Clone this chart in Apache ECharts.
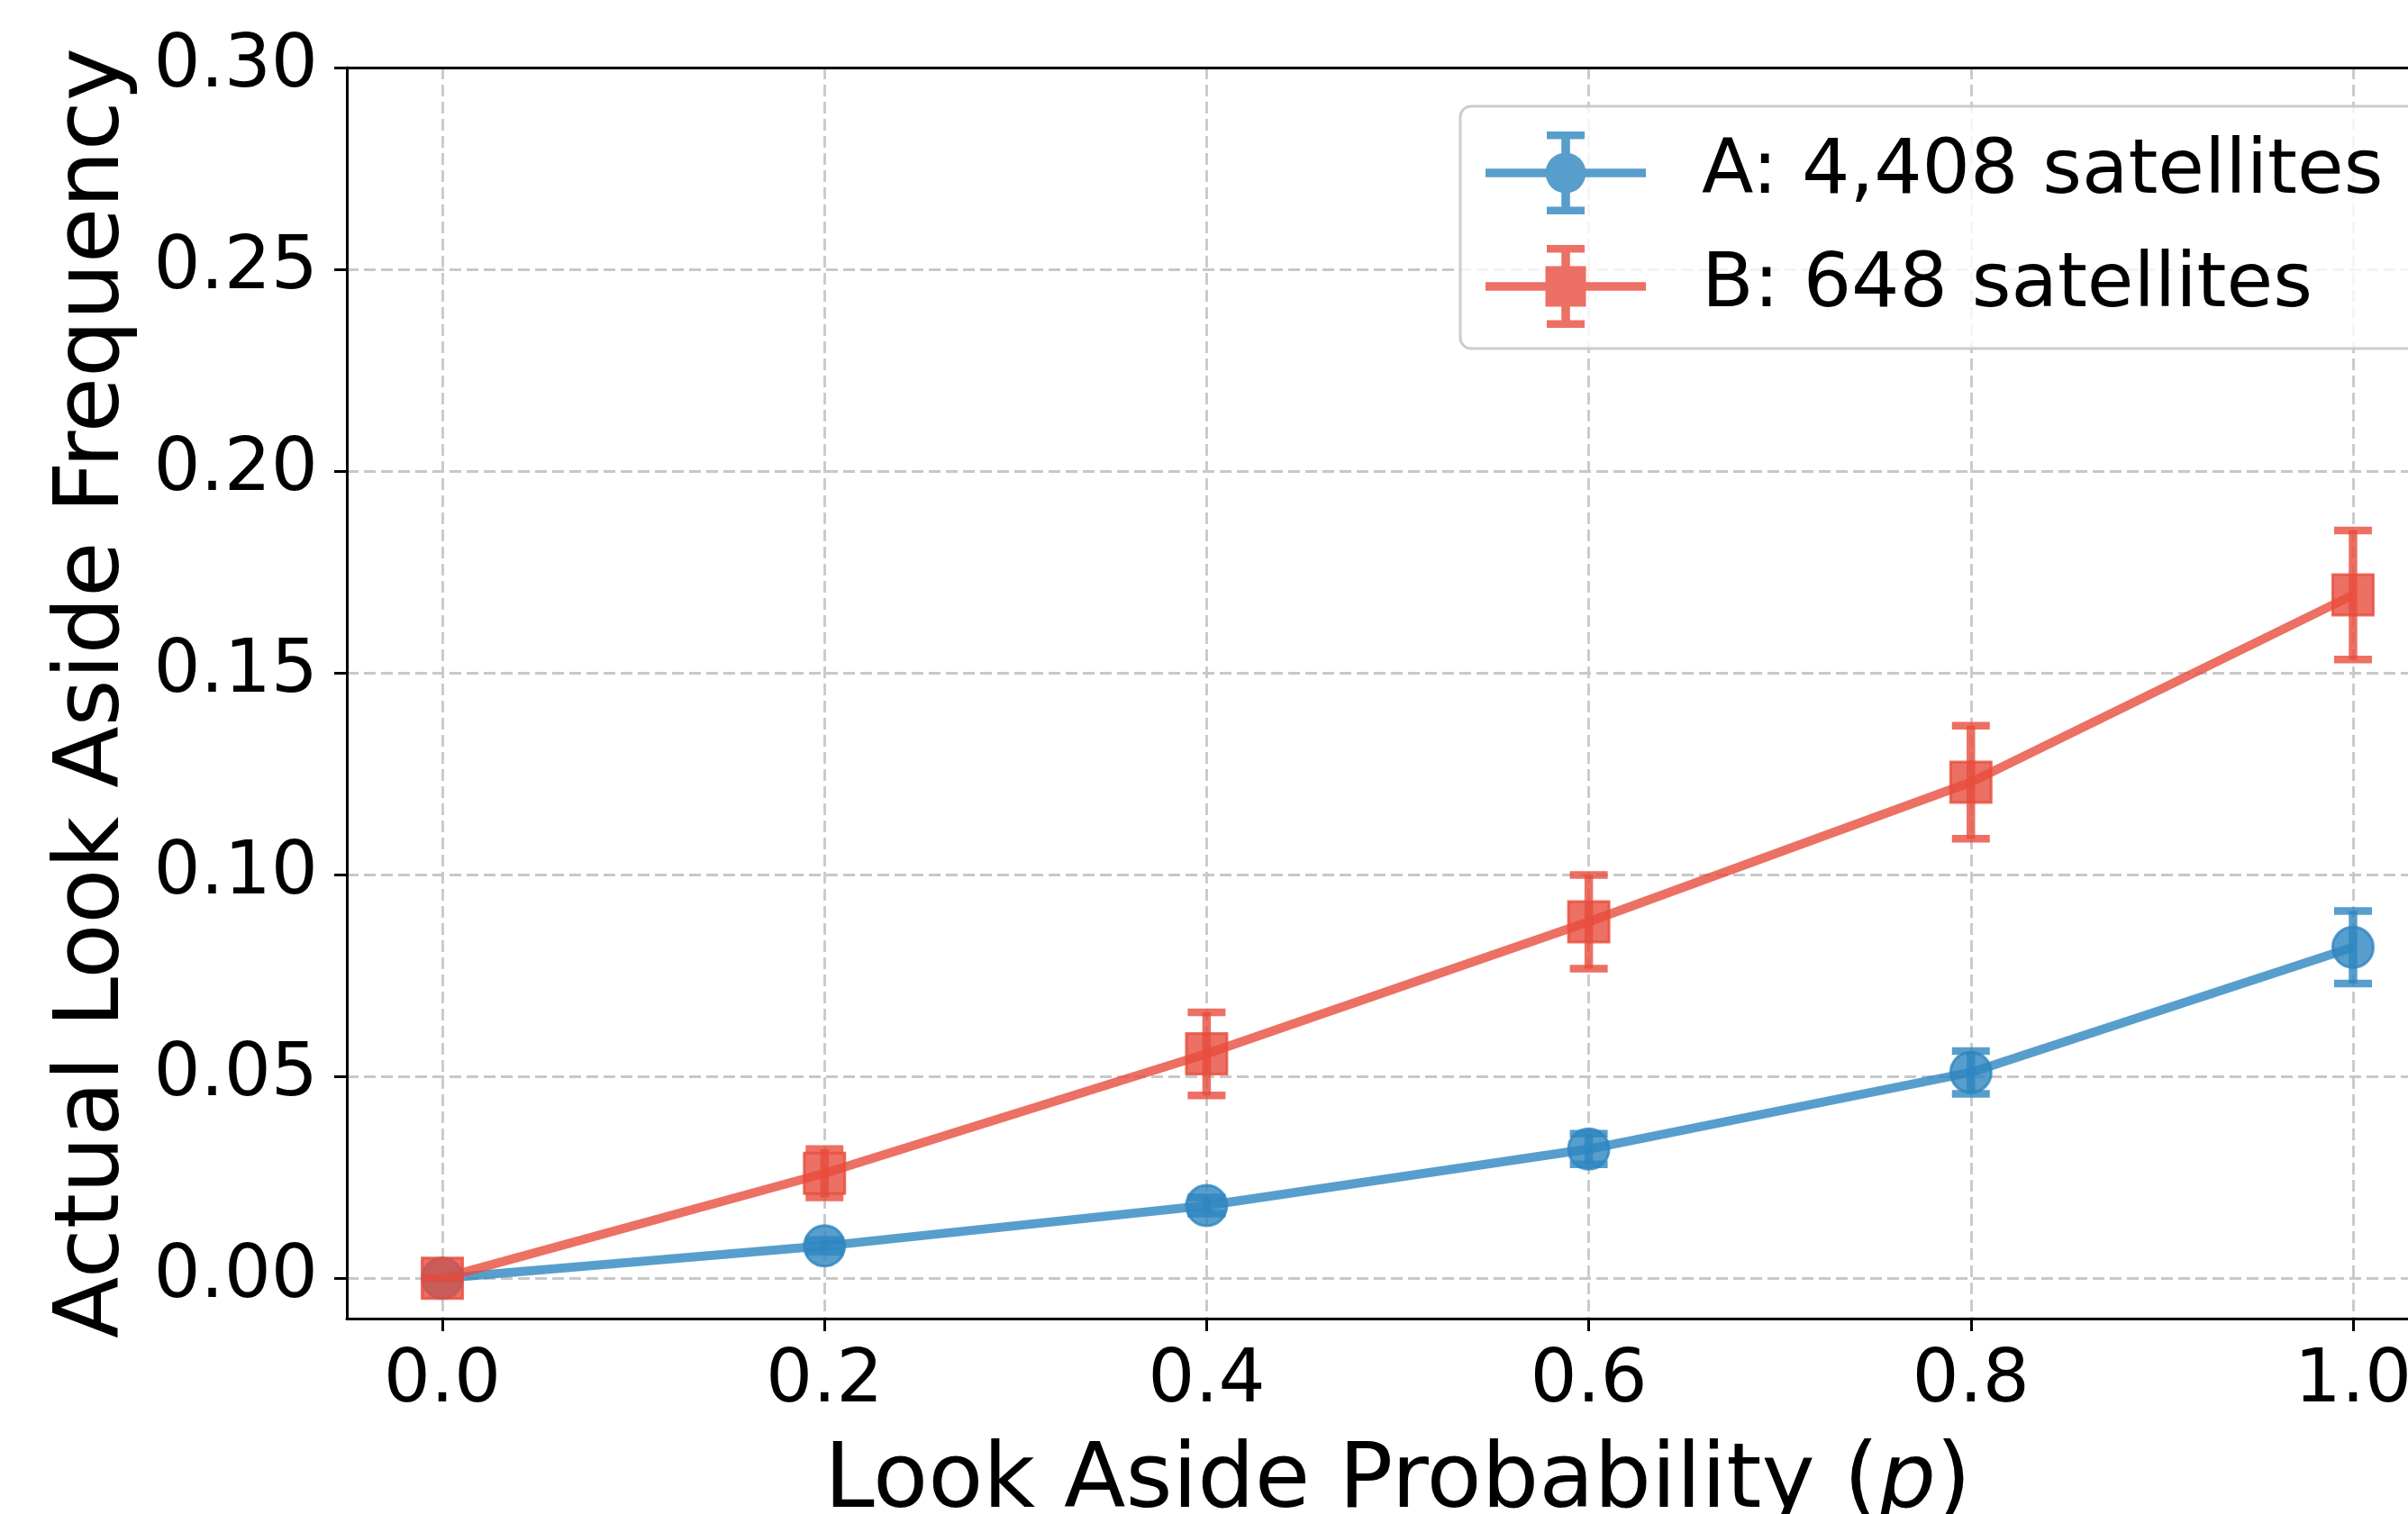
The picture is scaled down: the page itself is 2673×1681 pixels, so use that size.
<!DOCTYPE html>
<html>
<head>
<meta charset="utf-8">
<script src="https://cdn.jsdelivr.net/npm/echarts@6/dist/echarts.min.js"></script>
<style>
html,body{margin:0;padding:0;background:#ffffff;}
#chart{width:2673px;height:1681px;}
</style>
</head>
<body>
<div id="chart"></div>
<script>
// ---- data ----
const pValues = [0.0, 0.2, 0.4, 0.6, 0.8, 1.0];
const seriesAName = 'A: 4,408 satellites';
const seriesBName = 'B: 648 satellites';
const seriesAMean = [0.0, 0.008, 0.018, 0.032, 0.051, 0.082];
const seriesAErr  = [0.0, 0.0015, 0.002, 0.0038, 0.0053, 0.009];
const seriesBMean = [0.0, 0.026, 0.0556, 0.0883, 0.1229, 0.1693];
const seriesBErr  = [0.0, 0.006, 0.0103, 0.0116, 0.014, 0.016];
const xTicks = [0.0, 0.2, 0.4, 0.6, 0.8, 1.0];
const yTicks = [0.00, 0.05, 0.10, 0.15, 0.20, 0.25, 0.30];

const FONT = 'DejaVu Sans';
const blue = 'rgba(46,134,193,0.8)';
const red = 'rgba(231,76,60,0.8)';

function errorBarSeries(name, means, errs, color) {
  return {
    type: 'custom',
    name: name,
    z: 3,
    silent: true,
    data: pValues.map((p, i) => [p, means[i] - errs[i], means[i] + errs[i]]),
    encode: { x: 0, y: [1, 2] },
    renderItem: function (params, api) {
      const x = api.value(0);
      const lo = api.coord([x, api.value(1)]);
      const hi = api.coord([x, api.value(2)]);
      const half = 21;
      const barStyle = { stroke: color, lineWidth: 9.5, fill: null };
      const capStyle = { stroke: color, lineWidth: 8.5, fill: null };
      return {
        type: 'group',
        children: [
          { type: 'line', shape: { x1: lo[0], y1: lo[1], x2: hi[0], y2: hi[1] }, style: barStyle },
          { type: 'line', shape: { x1: lo[0] - half, y1: lo[1], x2: lo[0] + half, y2: lo[1] }, style: capStyle },
          { type: 'line', shape: { x1: hi[0] - half, y1: hi[1], x2: hi[0] + half, y2: hi[1] }, style: capStyle }
        ]
      };
    }
  };
}

function lineSeries(name, means, color, symbol) {
  return {
    type: 'line',
    name: name,
    z: 2,
    data: pValues.map((p, i) => [p, means[i]]),
    symbol: symbol,
    symbolSize: 45,
    showAllSymbol: true,
    clip: false,
    lineStyle: { color: color, width: 10 },
    itemStyle: { color: color, borderColor: color, borderWidth: 3 },
    emphasis: { disabled: true }
  };
}

// legend icon paths (178 x 92 box)
const barPart = 'M0 41.3 L178 41.3 L178 50.7 L0 50.7 Z ' +
  'M84.2 0 L93.8 0 L93.8 92 L84.2 92 Z ' +
  'M68 0 L110 0 L110 8.5 L68 8.5 Z ' +
  'M68 83.5 L110 83.5 L110 92 L68 92 Z ';
const iconA = 'path://' + barPart + 'M66.5 46 A22.5 22.5 0 1 1 111.5 46 A22.5 22.5 0 1 1 66.5 46 Z';
const iconB = 'path://' + barPart + 'M66.5 23.5 L111.5 23.5 L111.5 68.5 L66.5 68.5 Z';

const axisLineStyle = { color: '#000000', width: 3 };
const gridLineStyle = { color: '#c8c8c8', width: 2.8, type: [13, 6] };

const option = {
  animation: false,
  backgroundColor: '#ffffff',
  textStyle: { fontFamily: FONT },
  grid: {
    left: 385, top: 75, bottom: 217, right: -45,
    containLabel: false, outerBoundsMode: 'none'
  },
  legend: {
    orient: 'vertical',
    left: 1621, top: 118,
    padding: [28, 60, 23, 28],
    itemGap: 34,
    itemWidth: 178, itemHeight: 92,
    symbolKeepAspect: false,
    backgroundColor: 'rgba(255,255,255,0.8)',
    borderColor: '#cccccc', borderWidth: 3, borderRadius: 12,
    textStyle: { fontSize: 84, fontFamily: FONT, color: '#000000', padding: [0, 0, 0, 57] },
    itemStyle: { borderWidth: 0 },
    selectedMode: false,
    data: [
      { name: seriesAName, icon: iconA, itemStyle: { color: blue, borderWidth: 0 } },
      { name: seriesBName, icon: iconB, itemStyle: { color: red, borderWidth: 0 } }
    ]
  },
  xAxis: [{
    type: 'value', position: 'bottom', min: -0.05, max: 1.05,
    axisLine: { show: true, onZero: false, lineStyle: axisLineStyle },
    axisTick: { show: true, inside: false, length: 14, lineStyle: axisLineStyle, customValues: xTicks },
    axisLabel: { customValues: xTicks, formatter: v => v.toFixed(1), fontSize: 82, fontFamily: FONT, color: '#000000', margin: 30 },
    splitLine: { show: true, lineStyle: gridLineStyle },
    name: 'Look Aside Probability ({i|p})',
    nameLocation: 'middle', nameGap: 133,
    nameTextStyle: {
      fontSize: 100, fontFamily: FONT, color: '#000000',
      rich: { i: { fontSize: 100, fontFamily: FONT, fontStyle: 'italic', color: '#000000' } }
    }
  }, {
    type: 'value', position: 'top', min: -0.05, max: 1.05, z: 10,
    axisLine: { show: true, onZero: false, lineStyle: axisLineStyle },
    axisTick: { show: false }, axisLabel: { show: false }, splitLine: { show: false }
  }],
  yAxis: {
    type: 'value', min: -0.01, max: 0.30,
    axisLine: { show: true, onZero: false, lineStyle: axisLineStyle },
    axisTick: { show: true, inside: false, length: 14, lineStyle: axisLineStyle, customValues: yTicks },
    axisLabel: { customValues: yTicks, formatter: v => v.toFixed(2), fontSize: 82, fontFamily: FONT, color: '#000000', margin: 32 },
    splitLine: { show: true, lineStyle: gridLineStyle },
    name: 'Actual Look Aside Frequency',
    nameLocation: 'middle', nameGap: 230, nameRotate: 90,
    nameTextStyle: { fontSize: 100, fontFamily: FONT, color: '#000000' }
  },
  series: [
    lineSeries(seriesAName, seriesAMean, blue, 'circle'),
    errorBarSeries(seriesAName, seriesAMean, seriesAErr, blue),
    lineSeries(seriesBName, seriesBMean, red, 'rect'),
    errorBarSeries(seriesBName, seriesBMean, seriesBErr, red)
  ]
};

const chart = echarts.init(document.getElementById('chart'), null, { renderer: 'canvas', devicePixelRatio: 1 });
chart.setOption(option);
</script>
</body>
</html>
